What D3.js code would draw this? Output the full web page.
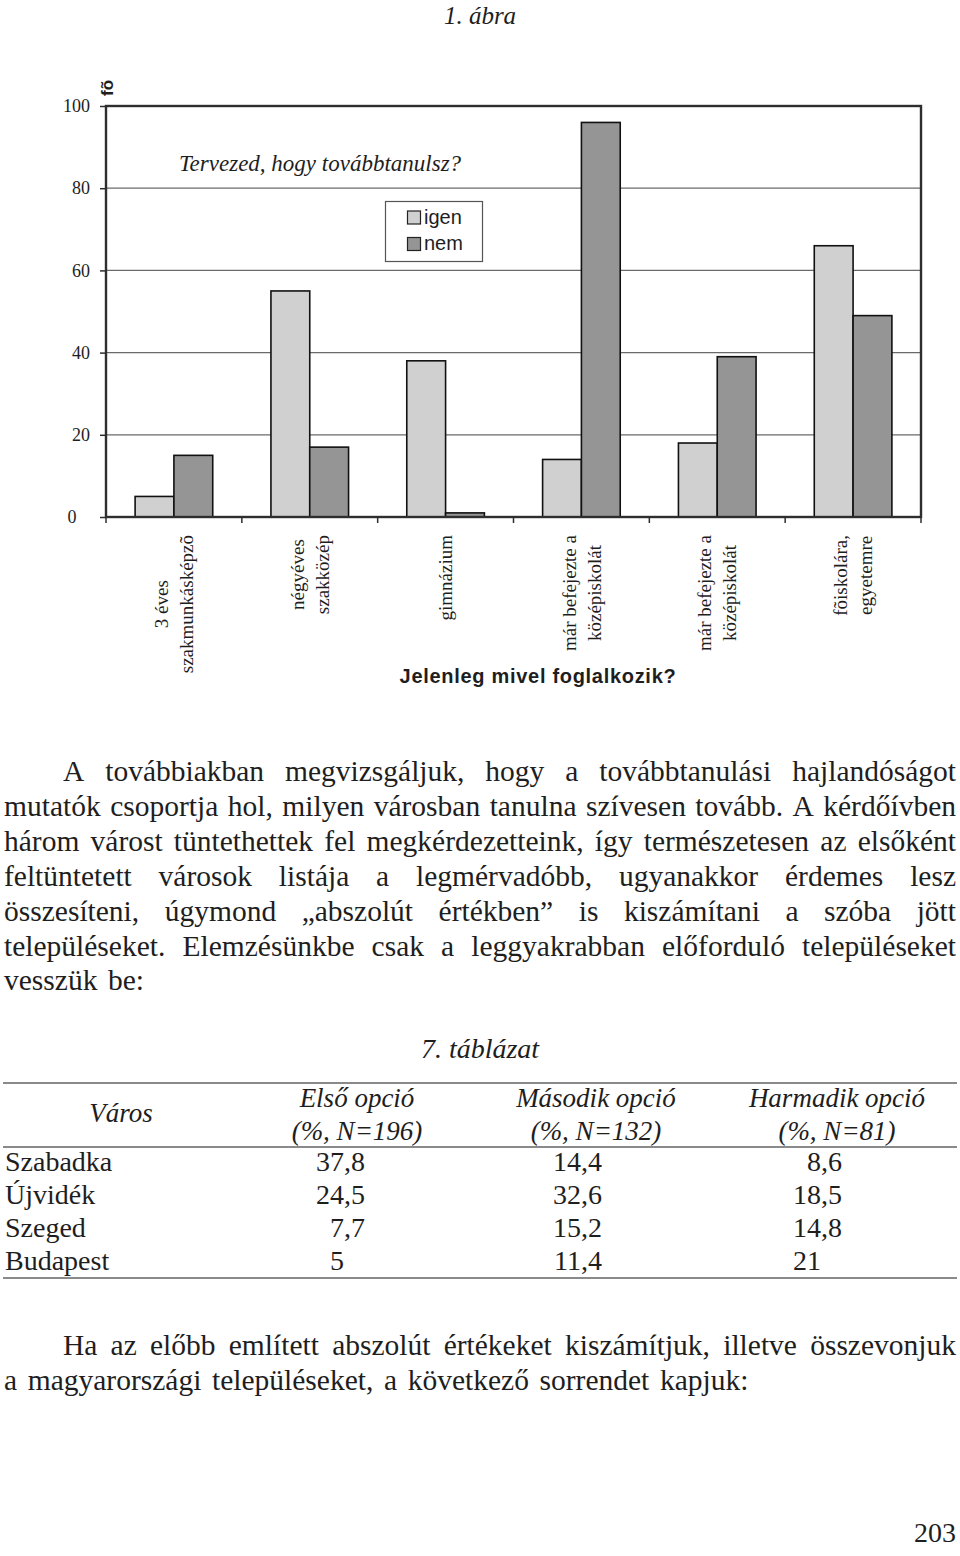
<!DOCTYPE html>
<html>
<head>
<meta charset="utf-8">
<script src="https://cdn.jsdelivr.net/npm/d3@7"></script>
<style>
  html, body { margin: 0; padding: 0; background: #fff; }
  svg { display: block; }
</style>
</head>
<body>
<script>
// ---------------- DATA ----------------
const figureTitle = "1. ábra";
const chartTitle = "Tervezed, hogy továbbtanulsz?";
const yAxisLabel = "fõ";
const xAxisTitle = "Jelenleg mivel foglalkozik?";
const categories = [
  ["3 éves", "szakmunkásképzõ"],
  ["négyéves", "szakközép"],
  ["gimnázium"],
  ["már befejezte a", "középiskolát"],
  ["már befejezte a", "középiskolát"],
  ["fõiskolára,", "egyetemre"]
];
const seriesNames = ["igen", "nem"];
const igenValues = [5, 55, 38, 14, 18, 66];
const nemValues = [15, 17, 1, 96, 39, 49];
const yTickValues = [0, 20, 40, 60, 80, 100];

const paragraph1 = [
  "A továbbiakban megvizsgáljuk, hogy a továbbtanulási hajlandóságot",
  "mutatók csoportja hol, milyen városban tanulna szívesen tovább. A kérdőívben",
  "három várost tüntethettek fel megkérdezetteink, így természetesen az elsőként",
  "feltüntetett városok listája a legmérvadóbb, ugyanakkor érdemes lesz",
  "összesíteni, úgymond „abszolút értékben” is kiszámítani a szóba jött",
  "településeket. Elemzésünkbe csak a leggyakrabban előforduló településeket",
  "vesszük be:"
];
const tableTitle = "7. táblázat";
const tableCityHeader = "Város";
const tableHeaders = [
  ["Első opció", "(%, N=196)"],
  ["Második opció", "(%, N=132)"],
  ["Harmadik opció", "(%, N=81)"]
];
const cities = ["Szabadka", "Újvidék", "Szeged", "Budapest"];
const firstOption = ["37,8", "24,5", "7,7", "5"];
const secondOption = ["14,4", "32,6", "15,2", "11,4"];
const thirdOption = ["8,6", "18,5", "14,8", "21"];
const paragraph2 = [
  "Ha az előbb említett abszolút értékeket kiszámítjuk, illetve összevonjuk",
  "a magyarországi településeket, a következő sorrendet kapjuk:"
];
const pageNumber = "203";

// ---------------- DRAWING ----------------
const W = 960, H = 1556;
const serif = "'Liberation Serif', 'Times New Roman', serif";
const sans = "'Liberation Sans', Arial, sans-serif";
const ink = "#1e1e1e";

const svg = d3.select("body").append("svg")
  .attr("width", W).attr("height", H)
  .style("background", "#fff");

// figure title
svg.append("text")
  .attr("x", 480).attr("y", 24)
  .attr("text-anchor", "middle")
  .style("font-family", serif).style("font-style", "italic")
  .style("font-size", "25px").style("fill", ink)
  .text(figureTitle);

// chart geometry
const plot = { left: 106, right: 921, top: 106, bottom: 517 };
const x0 = d3.scaleBand().domain(d3.range(categories.length)).range([plot.left, plot.right]);
const x1 = d3.scaleBand().domain(seriesNames).range([0, x0.bandwidth()]).paddingInner(0).paddingOuter(0.75);
const y = d3.scaleLinear().domain([0, 100]).range([plot.bottom, plot.top]);
const color = d3.scaleOrdinal().domain(seriesNames).range(["#d0d0d0", "#959595"]);

const chart = svg.append("g");

// gridlines
chart.append("g").selectAll("line")
  .data(yTickValues.filter(v => v > 0 && v < 100))
  .join("line")
  .attr("x1", plot.left).attr("x2", plot.right)
  .attr("y1", d => y(d)).attr("y2", d => y(d))
  .attr("stroke", "#6a6a6a").attr("stroke-width", 1.2);

// bars
const seriesData = seriesNames.map((s, si) => ({ name: s, values: si === 0 ? igenValues : nemValues }));
const barG = chart.append("g");
seriesData.forEach(s => {
  barG.append("g").selectAll("rect")
    .data(s.values.map((v, i) => ({ i, v })))
    .join("rect")
    .attr("x", d => x0(d.i) + x1(s.name))
    .attr("y", d => y(d.v))
    .attr("width", x1.bandwidth())
    .attr("height", d => y(0) - y(d.v))
    .attr("fill", color(s.name))
    .attr("stroke", "#111").attr("stroke-width", 1.6);
});

// plot border
chart.append("rect")
  .attr("x", plot.left).attr("y", plot.top)
  .attr("width", plot.right - plot.left).attr("height", plot.bottom - plot.top)
  .attr("fill", "none").attr("stroke", "#2e2e2e").attr("stroke-width", 2.4);

// y axis
const yAxis = chart.append("g")
  .attr("transform", `translate(${plot.left},0)`)
  .call(d3.axisLeft(y).tickValues(yTickValues).tickSize(6).tickPadding(10));
yAxis.select(".domain").remove();
yAxis.selectAll(".tick line").attr("stroke", "#2e2e2e").attr("stroke-width", 1.5);
yAxis.selectAll(".tick text")
  .style("font-family", serif).style("font-size", "18px").style("fill", ink)
  .attr("dx", d => d === 0 ? "-0.75em" : 0);

// x axis ticks at band boundaries
const xBoundaries = d3.range(categories.length + 1).map(i => plot.left + i * x0.step());
chart.append("g").selectAll("line")
  .data(xBoundaries).join("line")
  .attr("x1", d => d).attr("x2", d => d)
  .attr("y1", plot.bottom).attr("y2", plot.bottom + 6)
  .attr("stroke", "#2e2e2e").attr("stroke-width", 1.5);

// x category labels (rotated)
const labelTop = 535, labelLH = 25;
categories.forEach((lines, i) => {
  const cx = x0(i) + x0.bandwidth() / 2;
  const g = chart.append("g").attr("transform", `translate(${cx},${labelTop}) rotate(-90)`);
  const texts = lines.map((t, li) => g.append("text")
    .attr("y", (li - (lines.length - 1) / 2) * labelLH)
    .attr("dy", "0.35em")
    .attr("text-anchor", "middle")
    .style("font-family", serif).style("font-size", "19px").style("fill", ink)
    .text(t));
  const L = d3.max(texts, t => t.node().getComputedTextLength());
  texts.forEach(t => t.attr("x", -L / 2));
});

// y unit label
svg.append("text")
  .attr("transform", "translate(113,88) rotate(-90)")
  .attr("text-anchor", "middle")
  .style("font-family", sans).style("font-weight", "bold")
  .style("font-size", "17px").style("fill", ink)
  .text(yAxisLabel);

// chart title
svg.append("text")
  .attr("x", 320).attr("y", 171)
  .attr("text-anchor", "middle")
  .style("font-family", serif).style("font-style", "italic")
  .style("font-size", "23px").style("fill", ink)
  .text(chartTitle);

// legend
const legend = svg.append("g");
legend.append("rect")
  .attr("x", 385.5).attr("y", 201.5).attr("width", 97).attr("height", 60)
  .attr("fill", "#fff").attr("stroke", "#555").attr("stroke-width", 1.2);
seriesNames.forEach((s, i) => {
  legend.append("rect")
    .attr("x", 407.5).attr("y", 211 + i * 26.5).attr("width", 13).attr("height", 13)
    .attr("fill", color(s)).attr("stroke", "#222").attr("stroke-width", 1.2);
  legend.append("text")
    .attr("x", 424).attr("y", 223.5 + i * 26.5)
    .style("font-family", sans).style("font-size", "20px").style("fill", ink)
    .text(s);
});

// x axis title
svg.append("text")
  .attr("x", 538).attr("y", 683)
  .attr("text-anchor", "middle")
  .style("font-family", sans).style("font-weight", "bold")
  .style("font-size", "20px").style("letter-spacing", "0.7px").style("fill", ink)
  .text(xAxisTitle);

// ---------------- BODY TEXT ----------------
const bodySize = 29.5;
function setLine(g, text, xs, xe, yy, justify) {
  const words = text.split(" ");
  const nodes = words.map(w => g.append("text")
    .attr("y", yy)
    .style("font-family", serif).style("font-size", bodySize + "px").style("fill", ink)
    .text(w));
  const widths = nodes.map(n => n.node().getComputedTextLength());
  const total = d3.sum(widths);
  const gap = (justify && words.length > 1) ? (xe - xs - total) / (words.length - 1) : bodySize * 0.36;
  let x = xs;
  nodes.forEach((n, k) => { n.attr("x", x); x += widths[k] + gap; });
}
function paragraph(lines, startY, lh) {
  const g = svg.append("g");
  lines.forEach((line, i) => {
    const last = i === lines.length - 1;
    setLine(g, line, i === 0 ? 63 : 4, 956, startY + i * lh, !last);
  });
}
paragraph(paragraph1, 781, 34.9);

// ---------------- TABLE ----------------
const tbl = svg.append("g");
tbl.append("text")
  .attr("x", 480).attr("y", 1058).attr("text-anchor", "middle")
  .style("font-family", serif).style("font-style", "italic")
  .style("font-size", "28px").style("fill", ink)
  .text(tableTitle);
[1083, 1147, 1278].forEach(yy => {
  tbl.append("line").attr("x1", 3).attr("x2", 957).attr("y1", yy).attr("y2", yy)
    .attr("stroke", "#8a8a8a").attr("stroke-width", 2);
});
tbl.append("text")
  .attr("x", 121).attr("y", 1122).attr("text-anchor", "middle")
  .style("font-family", serif).style("font-style", "italic")
  .style("font-size", "27px").style("fill", ink)
  .text(tableCityHeader);
const headerCenters = [357, 596, 837];
tableHeaders.forEach((h, i) => {
  h.forEach((t, li) => {
    tbl.append("text")
      .attr("x", headerCenters[i]).attr("y", 1107 + li * 33)
      .attr("text-anchor", "middle")
      .style("font-family", serif).style("font-style", "italic")
      .style("font-size", "27px").style("fill", ink)
      .text(t);
  });
});
const rowY = d3.scaleLinear().domain([0, 3]).range([1171, 1270]);
const tableSize = "28px";
cities.forEach((c, i) => {
  tbl.append("text").attr("x", 5).attr("y", rowY(i))
    .style("font-family", serif).style("font-size", tableSize).style("fill", ink)
    .text(c);
});
const decimalX = [344, 581, 821];
[firstOption, secondOption, thirdOption].forEach((col, ci) => {
  col.forEach((v, i) => {
    const parts = v.split(",");
    tbl.append("text").attr("x", decimalX[ci]).attr("y", rowY(i))
      .attr("text-anchor", "end")
      .style("font-family", serif).style("font-size", tableSize).style("fill", ink)
      .text(parts[0]);
    if (parts.length > 1) {
      tbl.append("text").attr("x", decimalX[ci]).attr("y", rowY(i))
        .style("font-family", serif).style("font-size", tableSize).style("fill", ink)
        .text("," + parts[1]);
    }
  });
});

paragraph(paragraph2, 1355, 35);

// page number
svg.append("text")
  .attr("x", 956).attr("y", 1542).attr("text-anchor", "end")
  .style("font-family", serif).style("font-size", "28px").style("fill", ink)
  .text(pageNumber);
</script>
</body>
</html>
